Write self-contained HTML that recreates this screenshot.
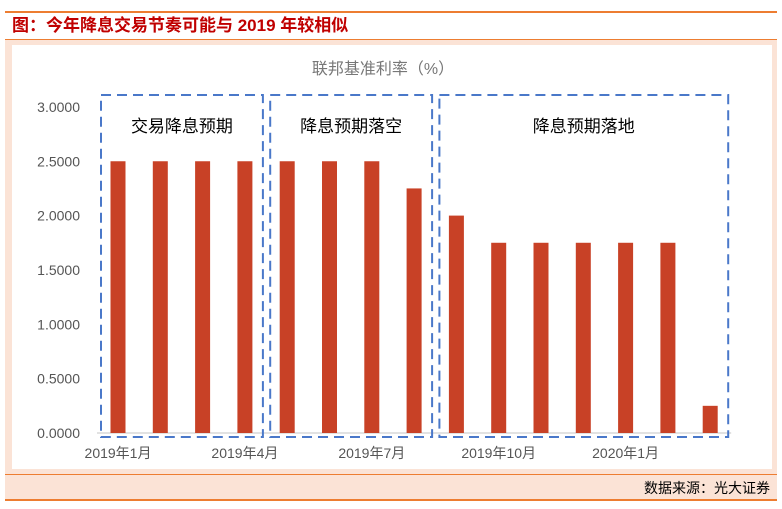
<!DOCTYPE html>
<html><head><meta charset="utf-8"><style>
body{margin:0;width:782px;height:509px;background:#fff;position:relative;overflow:hidden;font-family:"Liberation Sans","Noto Sans CJK SC",sans-serif}
.a{position:absolute}
</style></head><body>
<div class="a" style="left:5px;top:11px;width:772px;height:2px;background:#ed7d31"></div>
<div class="a" style="left:12px;top:14px;font-size:17px;font-weight:bold;color:#c00000;line-height:24px">图：今年降息交易节奏可能与 2019 年较相似</div>
<div class="a" style="left:5px;top:39px;width:772px;height:435px;background:#fbe3d6;border-top:1px solid #ed7d31"></div>
<div class="a" style="left:12px;top:45px;width:760px;height:424px;background:#fff"></div>
<div class="a" style="left:5px;top:474px;width:772px;height:24px;background:#fbe3d6;border-top:1px solid #ed7d31;border-bottom:2px solid #ed7d31"></div>
<div class="a" style="right:12px;top:478px;font-size:14px;color:#000">数据来源：光大证券</div>
<svg class="a" style="left:0;top:0" width="782" height="509" id="chart">
<text x="383" y="74" text-anchor="middle" font-size="16" fill="#777">联邦基准利率（%）</text>
</svg>
<script>
const categories=["2019-01","2019-02","2019-03","2019-04","2019-05","2019-06","2019-07","2019-08","2019-09","2019-10","2019-11","2019-12","2020-01","2020-02","2020-03"];
const values=[2.5,2.5,2.5,2.5,2.5,2.5,2.5,2.25,2.0,1.75,1.75,1.75,1.75,1.75,0.25];
const yTicks=[0,0.5,1,1.5,2,2.5,3];
const xLabels=[[0,"2019年1月"],[3,"2019年4月"],[6,"2019年7月"],[9,"2019年10月"],[12,"2020年1月"]];
const boxes=[[0,3,"交易降息预期"],[4,7,"降息预期落空"],[8,14,"降息预期落地"]];
const svg=document.getElementById('chart');const NS="http://www.w3.org/2000/svg";
const y=v=>433-v*108.7;const step=42.3;const x=i=>118+i*step;
function mk(t,a){const e=document.createElementNS(NS,t);for(const k in a)e.setAttribute(k,a[k]);svg.appendChild(e);return e;}
yTicks.forEach(v=>{const t=mk('text',{x:80,y:y(v)+5,'text-anchor':'end','font-size':14,fill:'#555'});t.textContent=v.toFixed(4);

});
const ax=mk('line',{x1:97,x2:x(14)+21,y1:433,y2:433,stroke:'#d9d9d9','stroke-width':1.5});


values.forEach((v,i)=>{const r=mk('rect',{x:x(i)-7.5,y:y(v),width:15,height:433-y(v),fill:'#c84126'});

});
xLabels.forEach(([i,s])=>{const t=mk('text',{x:x(i),y:458,'text-anchor':'middle','font-size':14,fill:'#555'});t.textContent=s;

});
boxes.forEach(([a,b,s],k)=>{const l=x(a)-17,r=x(b)+18;const g=mk('rect',{x:l,y:95,width:r-l,height:342,fill:'none',stroke:'#4a78c9','stroke-width':2,'stroke-dasharray':'10,6'});


const t=mk('text',{x:(l+r)/2,y:132,'text-anchor':'middle','font-size':17,fill:'#000'});t.textContent=s;

});
</script>
</body></html>
